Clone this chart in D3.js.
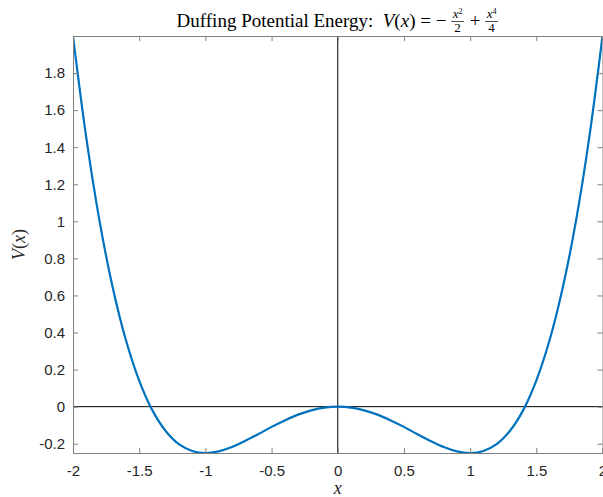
<!DOCTYPE html>
<html>
<head>
<meta charset="utf-8">
<script src="https://cdn.jsdelivr.net/npm/d3@7"></script>
<style>
  body { margin: 0; background: #fff; }
  svg { display: block; }
  text { white-space: pre; }
</style>
</head>
<body>
<div class="chart"></div>
<script>
// Curve samples
var xs = [-2, -1.9, -1.8, -1.7, -1.6, -1.5, -1.4, -1.3, -1.2, -1.1, -1,
  -0.9, -0.8, -0.7, -0.6, -0.5, -0.4, -0.3, -0.2, -0.1, 0,
  0.1, 0.2, 0.3, 0.4, 0.5, 0.6, 0.7, 0.8, 0.9, 1,
  1.1, 1.2, 1.3, 1.4, 1.5, 1.6, 1.7, 1.8, 1.9, 2];
var vs = [2, 1.453, 1.004, 0.643, 0.358, 0.141, -0.020, -0.131, -0.202, -0.239, -0.25,
  -0.241, -0.218, -0.185, -0.148, -0.109, -0.074, -0.043, -0.020, -0.005, 0,
  -0.005, -0.020, -0.043, -0.074, -0.109, -0.148, -0.185, -0.218, -0.241, -0.25,
  -0.239, -0.202, -0.131, -0.020, 0.141, 0.358, 0.643, 1.004, 1.453, 2];

var x_ticks = [-2, -1.5, -1, -0.5, 0, 0.5, 1, 1.5, 2];
var y_ticks = [-0.2, 0, 0.2, 0.4, 0.6, 0.8, 1, 1.2, 1.4, 1.6, 1.8];

var svg_width = 603;
var svg_height = 497;
var m_left = 73, m_right = 602.5, m_top = 36, m_bottom = 453;
var axis_color = "#808080";
var text_color = "#262626";

var svg = d3.select(".chart").append("svg")
  .attr("width", svg_width)
  .attr("height", svg_height);

var x = d3.scaleLinear().domain([-2, 2]).range([m_left, m_right]);
var y = d3.scaleLinear().domain([-0.25, 2]).range([m_bottom, m_top]);

svg.append("clipPath").attr("id", "plot")
  .append("rect")
  .attr("x", m_left).attr("y", m_top)
  .attr("width", m_right - m_left).attr("height", m_bottom - m_top);

// zero lines
svg.append("line")
  .attr("x1", x(0)).attr("x2", x(0))
  .attr("y1", m_top).attr("y2", m_bottom)
  .attr("stroke", "#000").attr("stroke-width", 1);
svg.append("line")
  .attr("x1", m_left).attr("x2", m_right)
  .attr("y1", y(0)).attr("y2", y(0))
  .attr("stroke", "#000").attr("stroke-width", 1);

// the curve
var pts = xs.map(function(d, i) { return [d, vs[i]]; });
svg.append("path")
  .datum(pts)
  .attr("clip-path", "url(#plot)")
  .attr("fill", "none")
  .attr("stroke", "#0072BD")
  .attr("stroke-width", 2.2)
  .attr("d", d3.line()
    .x(function(d) { return x(d[0]); })
    .y(function(d) { return y(d[1]); })
    .curve(d3.curveCatmullRom));

// axes, ticks inward on all four sides
var fmt = function(d) { return String(d); };
svg.append("g").attr("transform", "translate(0," + m_bottom + ")")
  .call(d3.axisBottom(x).tickValues(x_ticks).tickSize(-5).tickPadding(12).tickFormat(fmt));
svg.append("g").attr("transform", "translate(0," + m_top + ")")
  .call(d3.axisTop(x).tickValues(x_ticks).tickSize(-5).tickFormat(""));
svg.append("g").attr("transform", "translate(" + m_left + ",0)")
  .call(d3.axisLeft(y).tickValues(y_ticks).tickSize(-5).tickPadding(8).tickFormat(fmt));
svg.append("g").attr("transform", "translate(" + m_right + ",0)")
  .call(d3.axisRight(y).tickValues(y_ticks).tickSize(-5).tickFormat(""));

svg.selectAll(".domain").attr("stroke", axis_color);
svg.selectAll(".tick line").attr("stroke", axis_color);
svg.selectAll(".tick text")
  .attr("fill", text_color)
  .attr("font-family", "Liberation Sans, Arial, sans-serif")
  .attr("font-size", "15px");

// title with stacked fractions
var serif = "Liberation Serif, Times New Roman, serif";
var title = svg.append("g");
var cx = 0;
function run(txt, italic) {
  var t = title.append("text")
    .attr("x", cx).attr("y", 27)
    .attr("font-family", serif)
    .attr("font-size", "19px")
    .attr("font-style", italic ? "italic" : "normal")
    .attr("fill", "#000")
    .text(txt);
  cx += t.node().getComputedTextLength();
}
function frac(num, sup, den) {
  var n = title.append("text")
    .attr("y", 18).attr("font-family", serif).attr("font-size", "13px")
    .attr("fill", "#000");
  n.append("tspan").attr("font-style", "italic").text(num);
  n.append("tspan").attr("font-size", "8px").attr("dy", -4).text(sup);
  var d = title.append("text")
    .attr("y", 32).attr("font-family", serif).attr("font-size", "13px")
    .attr("fill", "#000").text(den);
  var w = Math.max(n.node().getComputedTextLength(), d.node().getComputedTextLength()) + 3;
  n.attr("x", cx + (w - n.node().getComputedTextLength()) / 2);
  d.attr("x", cx + (w - d.node().getComputedTextLength()) / 2);
  title.append("line")
    .attr("x1", cx).attr("x2", cx + w)
    .attr("y1", 21.5).attr("y2", 21.5)
    .attr("stroke", "#000").attr("stroke-width", 0.7);
  cx += w + 1;
}
run("Duffing Potential Energy:  ", false);
run("V", true);
run("(", false);
run("x", true);
run(") = \u2212 ", false);
frac("x", "2", "2");
run(" + ", false);
frac("x", "4", "4");
title.attr("transform", "translate(" + (x(0) - cx / 2) + ",0)");

// axis labels
svg.append("text")
  .attr("x", x(0)).attr("y", 494)
  .attr("text-anchor", "middle")
  .attr("font-family", serif).attr("font-style", "italic")
  .attr("font-size", "18px").attr("fill", text_color)
  .text("x");
var yl = svg.append("text")
  .attr("transform", "translate(25," + ((m_top + m_bottom) / 2) + ") rotate(-90)")
  .attr("text-anchor", "middle")
  .attr("font-family", serif)
  .attr("font-size", "18px").attr("fill", text_color);
yl.append("tspan").attr("font-style", "italic").text("V");
yl.append("tspan").text("(");
yl.append("tspan").attr("font-style", "italic").text("x");
yl.append("tspan").text(")");
</script>
</body>
</html>
